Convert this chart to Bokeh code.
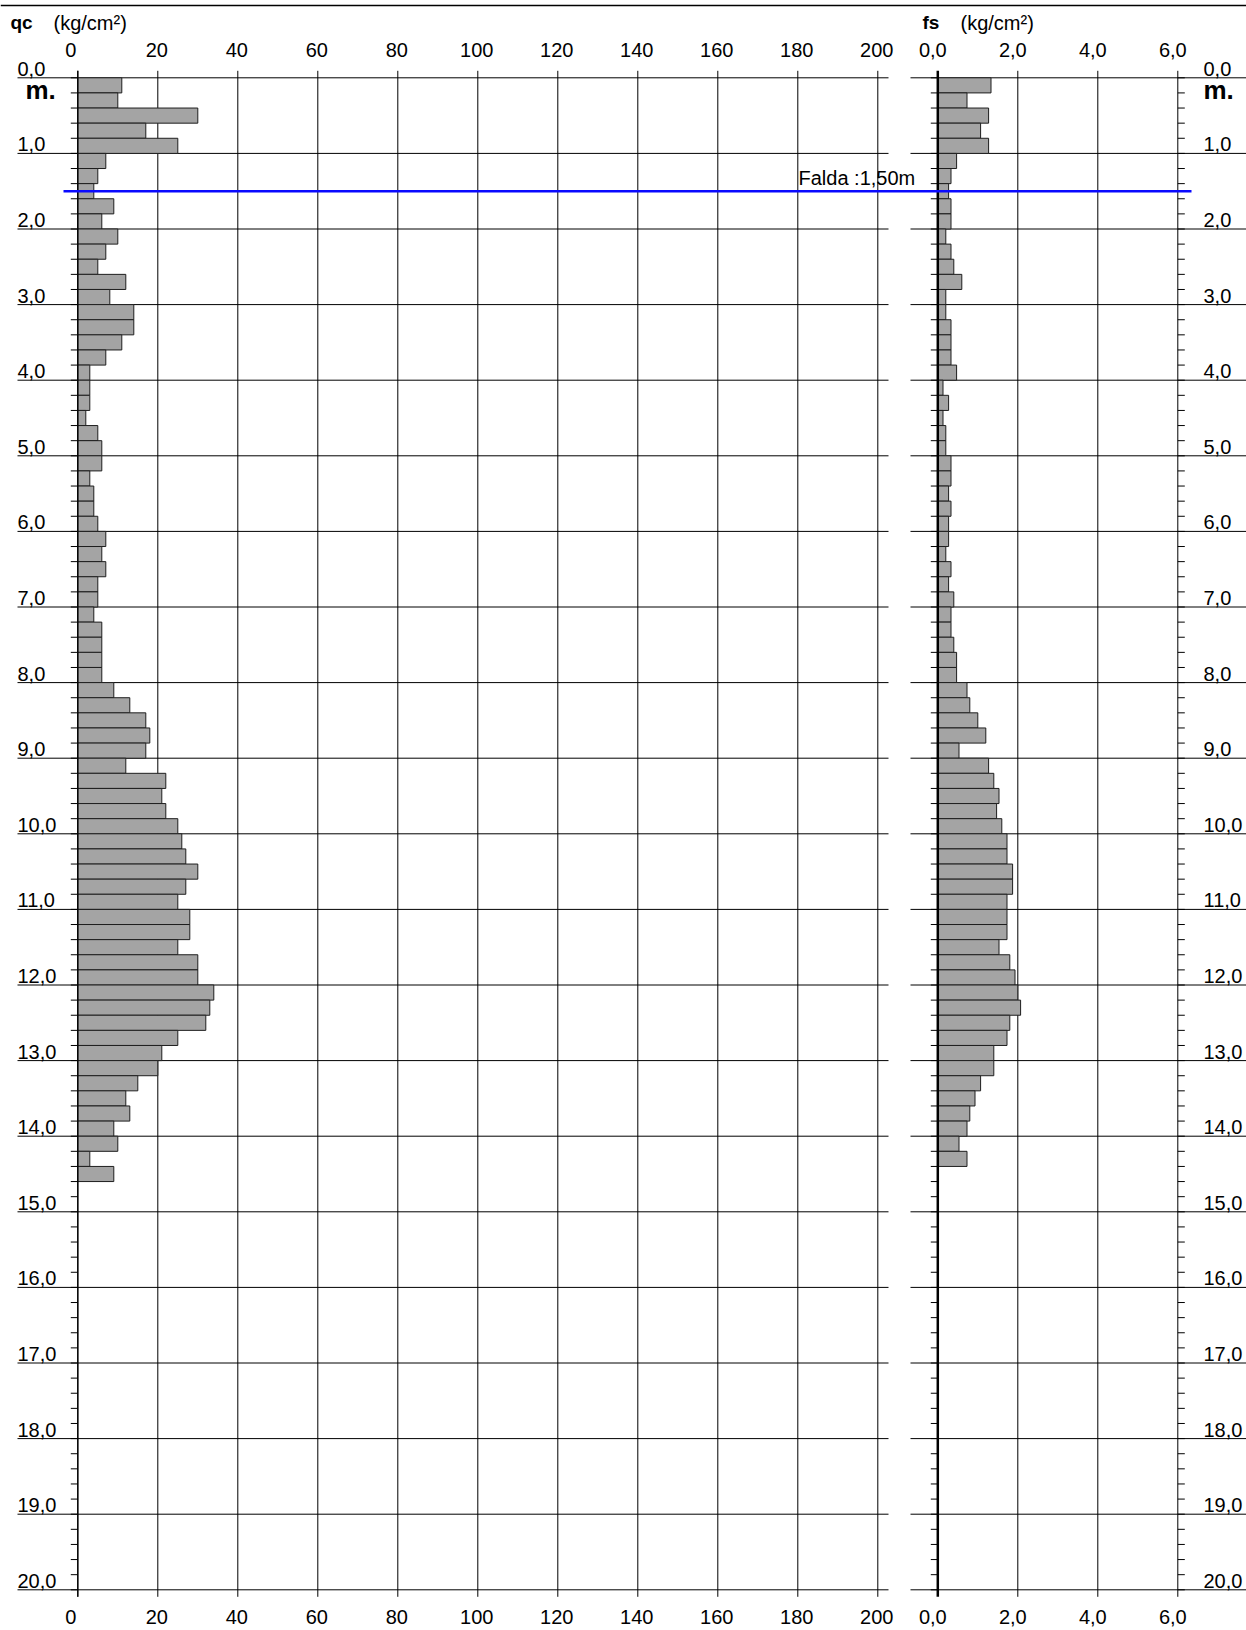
import numpy as np
from bokeh.plotting import figure
from bokeh.models import Range1d, Span, ColumnDataSource
from bokeh.core.properties import value
from bokeh.embed import file_html
from bokeh.resources import INLINE

# ---- sounding data: one reading every 0.20 m from the surface ----
STEP = 0.2  # m
# cone resistance qc (kg/cm2)
qc = [11, 10, 30, 17, 25, 7, 5, 4, 9, 6,
      10, 7, 5, 12, 8, 14, 14, 11, 7, 3,
      3, 3, 2, 5, 6, 6, 3, 4, 4, 5,
      7, 6, 7, 5, 5, 4, 6, 6, 6, 6,
      9, 13, 17, 18, 17, 12, 22, 21, 22, 25,
      26, 27, 30, 27, 25, 28, 28, 25, 30, 30,
      34, 33, 32, 25, 21, 20, 15, 12, 13, 9,
      10, 3, 9]
# lateral friction fs (kg/cm2)
fs = [1.33, 0.73, 1.27, 1.07, 1.27, 0.47, 0.33, 0.27, 0.33, 0.33,
      0.20, 0.33, 0.40, 0.60, 0.20, 0.20, 0.33, 0.33, 0.33, 0.47,
      0.13, 0.27, 0.13, 0.20, 0.20, 0.33, 0.33, 0.27, 0.33, 0.27,
      0.27, 0.20, 0.33, 0.27, 0.40, 0.33, 0.33, 0.40, 0.47, 0.47,
      0.73, 0.80, 1.00, 1.20, 0.53, 1.27, 1.40, 1.53, 1.47, 1.60,
      1.73, 1.73, 1.87, 1.87, 1.73, 1.73, 1.73, 1.53, 1.80, 1.93,
      2.00, 2.07, 1.80, 1.73, 1.40, 1.40, 1.07, 0.93, 0.80, 0.73,
      0.53, 0.73]

qc_ticks = [0, 20, 40, 60, 80, 100, 120, 140, 160, 180, 200]
qc_tick_labels = ["0", "20", "40", "60", "80", "100", "120", "140", "160", "180", "200"]
fs_ticks = [0, 2, 4, 6]
fs_tick_labels = ["0,0", "2,0", "4,0", "6,0"]
depth_major = list(range(0, 21))
depth_labels = [f"{d},0" for d in depth_major]
MAX_DEPTH = 20
water_table = 1.5
water_label = "Falda :1,50m"

# ---- page layout (pixels) ----
W, H = 1246, 1630
QC_X0, QC_PX = 77.3, 4.0      # x of qc = 0, px per kg/cm2
FS_X0, FS_PX = 937.3, 40.0    # x of fs = 0, px per kg/cm2
D_Y0, D_PX = 77.3, 75.6       # y of depth 0, px per metre


def qx(px):
    return (px - QC_X0) / QC_PX


def fx(px):
    return (px - FS_X0) / FS_PX


def dy(py):
    return (py - D_Y0) / D_PX


FONT = value("Liberation Sans")
TXT = "20px"
TICK = 7 / D_PX  # tick length below/above the frame, in metres

p = figure(width=W, height=H, output_backend="svg", toolbar_location=None,
           x_range=Range1d(qx(0), qx(W)), y_range=Range1d(dy(H), dy(0)),
           x_axis_location=None, y_axis_location=None, title=None,
           min_border=0, outline_line_color=None, background_fill_color="white")
p.extra_x_ranges = {"fs": Range1d(fx(0), fx(W))}
p.xgrid.visible = False
p.ygrid.visible = False

# top rule
p.add_layout(Span(location=dy(5), dimension="width", line_color="black", line_width=1.5))

# horizontal grid every metre, in both panels
p.segment(x0=qx(17), x1=qx(888), y0=depth_major, y1=depth_major,
          line_color="black", line_width=1)
p.segment(x0=fx(910), x1=fx(W), y0=depth_major, y1=depth_major,
          line_color="black", line_width=1, x_range_name="fs")

# vertical grid with short ticks outside the frame
p.segment(x0=qc_ticks, x1=qc_ticks, y0=-TICK, y1=MAX_DEPTH + TICK,
          line_color="black", line_width=1)
p.segment(x0=fs_ticks[1:], x1=fs_ticks[1:], y0=-TICK, y1=MAX_DEPTH + TICK,
          line_color="black", line_width=1, x_range_name="fs")

# minor depth ticks every 0.2 m
depth_minor = list(np.round(np.arange(0, MAX_DEPTH + 0.001, STEP), 1))
p.segment(x0=qx(QC_X0 - 7), x1=0, y0=depth_minor, y1=depth_minor,
          line_color="black", line_width=1)
p.segment(x0=fx(FS_X0 - 7), x1=0, y0=depth_minor, y1=depth_minor,
          line_color="black", line_width=1, x_range_name="fs")
p.segment(x0=6, x1=fx(FS_X0 + 6 * FS_PX + 7), y0=depth_minor, y1=depth_minor,
          line_color="black", line_width=1, x_range_name="fs")

# bars
qc_top = np.arange(len(qc)) * STEP
fs_top = np.arange(len(fs)) * STEP
src_qc = ColumnDataSource(dict(y=qc_top + STEP / 2, right=qc))
src_fs = ColumnDataSource(dict(y=fs_top + STEP / 2, right=fs))
p.hbar(y="y", height=STEP, left=0, right="right", source=src_qc,
       fill_color="#a4a4a4", line_color="#1e1e1e", line_width=1)
p.hbar(y="y", height=STEP, left=0, right="right", source=src_fs,
       fill_color="#a4a4a4", line_color="#1e1e1e", line_width=1, x_range_name="fs")

# zero axes
p.segment(x0=0, x1=0, y0=-TICK, y1=MAX_DEPTH + TICK, line_color="black", line_width=1.3)
p.segment(x0=0, x1=0, y0=-TICK, y1=MAX_DEPTH + TICK, line_color="black", line_width=2.5,
          x_range_name="fs")

# water table
p.segment(x0=qx(63), x1=qx(1191), y0=water_table, y1=water_table,
          line_color="#0a0aff", line_width=2.5)
p.text(x=[qx(798)], y=[water_table], text=[water_label], text_font=FONT,
       text_font_size=TXT, text_align="left", text_baseline="alphabetic",
       y_offset=-13, text_color="black")

# x tick labels, top and bottom
qc_off = [-7 if t == 0 else -1 for t in qc_ticks]
for yy, off in ((0, -28), (MAX_DEPTH, 27)):
    p.text(x=qc_ticks, y=[yy] * len(qc_ticks), text=qc_tick_labels, text_font=FONT,
           text_font_size=TXT, text_align="center", text_baseline="alphabetic",
           x_offset=qc_off, y_offset=off, text_color="black")
    p.text(x=fs_ticks, y=[yy] * len(fs_ticks), text=fs_tick_labels, text_font=FONT,
           text_font_size=TXT, text_align="center", text_baseline="alphabetic",
           x_offset=-5, y_offset=off, text_color="black", x_range_name="fs")

# panel titles
p.text(x=[qx(10)], y=[0], text=["qc"], text_font=FONT, text_font_size="19px",
       text_font_style="bold", text_baseline="alphabetic", y_offset=-55, text_color="black")
p.text(x=[qx(53)], y=[0], text=["(kg/cm²)"], text_font=FONT, text_font_size=TXT,
       text_baseline="alphabetic", y_offset=-55, text_color="black")
p.text(x=[fx(922)], y=[0], text=["fs"], text_font=FONT, text_font_size="19px",
       text_font_style="bold", text_baseline="alphabetic", y_offset=-55, text_color="black",
       x_range_name="fs")
p.text(x=[fx(960)], y=[0], text=["(kg/cm²)"], text_font=FONT, text_font_size=TXT,
       text_baseline="alphabetic", y_offset=-55, text_color="black", x_range_name="fs")

# depth labels on both sides
p.text(x=[qx(17)] * len(depth_major), y=depth_major, text=depth_labels, text_font=FONT,
       text_font_size=TXT, text_align="left", text_baseline="alphabetic",
       y_offset=-9, text_color="black")
p.text(x=[fx(1203)] * len(depth_major), y=depth_major, text=depth_labels, text_font=FONT,
       text_font_size=TXT, text_align="left", text_baseline="alphabetic",
       y_offset=-9, text_color="black", x_range_name="fs")
p.text(x=[qx(25)], y=[0], text=["m."], text_font=FONT, text_font_size="26px",
       text_font_style="bold", text_baseline="alphabetic", y_offset=12, text_color="black")
p.text(x=[fx(1203)], y=[0], text=["m."], text_font=FONT, text_font_size="26px",
       text_font_style="bold", text_baseline="alphabetic", y_offset=12, text_color="black",
       x_range_name="fs")

open("out.html", "w").write(file_html(p, INLINE))
